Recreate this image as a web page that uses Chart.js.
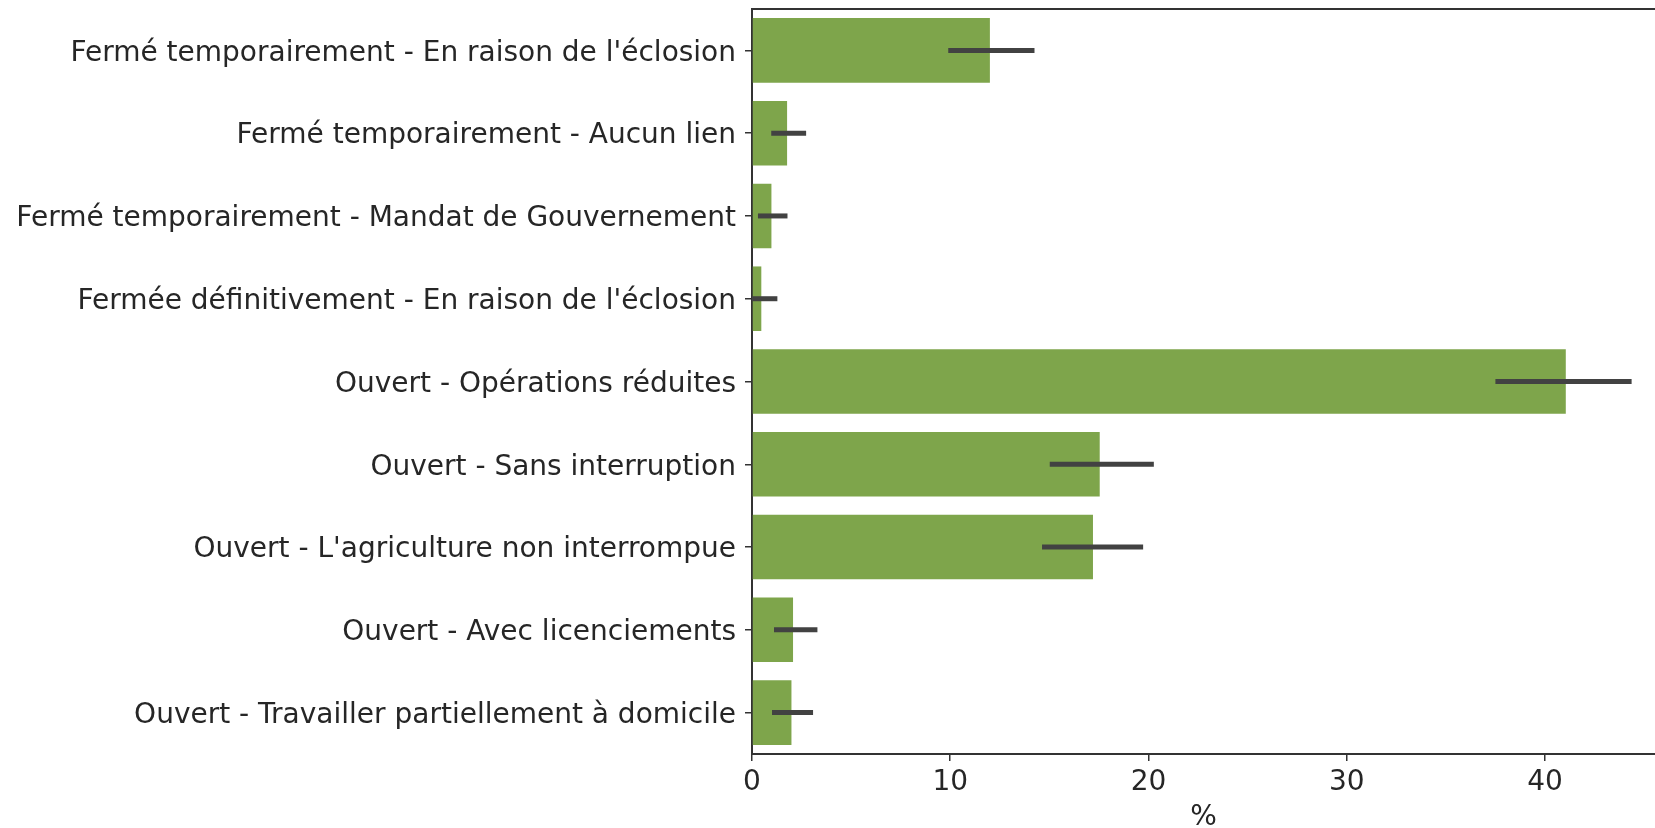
<!DOCTYPE html>
<html>
<head>
<meta charset="utf-8">
<script src="https://cdn.jsdelivr.net/npm/chart.js@4.4.0/dist/chart.umd.min.js"></script>
<style>
  html, body { margin: 0; padding: 0; background: #fff; }
  #wrap { width: 1655px; height: 828px; }
</style>
</head>
<body>
<div id="wrap"><canvas id="status-chart" width="1655" height="828"></canvas></div>
<script>
// Business status shares (%) with bootstrap confidence intervals.
const categories = [
    "Fermé temporairement - En raison de l'éclosion",
    "Fermé temporairement - Aucun lien",
    "Fermé temporairement - Mandat de Gouvernement",
    "Fermée définitivement - En raison de l'éclosion",
    "Ouvert - Opérations réduites",
    "Ouvert - Sans interruption",
    "Ouvert - L'agriculture non interrompue",
    "Ouvert - Avec licenciements",
    "Ouvert - Travailler partiellement à domicile"
];
const shares  = [12.0, 1.77, 0.98, 0.47, 41.05, 17.54, 17.2, 2.07, 1.99];
const ciLow   = [9.9, 0.97, 0.3, 0.0, 37.5, 15.02, 14.63, 1.11, 1.01];
const ciHigh  = [14.25, 2.73, 1.79, 1.28, 44.37, 20.27, 19.73, 3.3, 3.08];
const xTicks  = [0, 10, 20, 30, 40];

const textColor = '#262626';
const spineColor = '#333333';
const labelFont = { family: 'DejaVu Sans', size: 28 };

// Draws the CI whiskers and the top spine.
const errorBars = {
    id: 'errorBars',
    afterDatasetsDraw(chart) {
        const { ctx, chartArea, scales: { x, y } } = chart;
        ctx.save();
        ctx.strokeStyle = '#424242';
        ctx.lineWidth = 5;
        ctx.lineCap = 'butt';
        shares.forEach((_, i) => {
            const py = y.getPixelForValue(i);
            ctx.beginPath();
            ctx.moveTo(x.getPixelForValue(ciLow[i]), py);
            ctx.lineTo(x.getPixelForValue(ciHigh[i]), py);
            ctx.stroke();
        });
        ctx.strokeStyle = spineColor;
        ctx.lineWidth = 2;
        ctx.beginPath();
        ctx.moveTo(chartArea.left, chartArea.top);
        ctx.lineTo(chartArea.right, chartArea.top);
        ctx.stroke();
        ctx.restore();
    }
};

new Chart(document.getElementById('status-chart'), {
    type: 'bar',
    data: {
        labels: categories,
        datasets: [{
            data: shares,
            backgroundColor: '#7ea54b',
            borderWidth: 0,
            categoryPercentage: 1.0,
            barPercentage: 0.78
        }]
    },
    plugins: [errorBars],
    options: {
        indexAxis: 'y',
        responsive: false,
        animation: false,
        layout: { padding: { top: 9, left: 0, right: 0, bottom: 0 } },
        plugins: {
            legend: { display: false },
            tooltip: { enabled: false }
        },
        scales: {
            x: {
                min: 0,
                max: 45.55,
                afterBuildTicks(scale) {
                    scale.ticks = xTicks.map(v => ({ value: v }));
                },
                afterFit(scale) {
                    scale.height = 74;
                    scale.paddingLeft = 0;
                    scale.paddingRight = 0;
                },
                border: { display: true, color: spineColor, width: 2 },
                grid: { display: true, drawOnChartArea: false, drawTicks: true, tickLength: 7, color: spineColor, lineWidth: 1.5 },
                ticks: {
                    padding: 5,
                    color: textColor,
                    font: labelFont,
                    maxRotation: 0
                },
                title: {
                    display: true,
                    text: '%',
                    color: textColor,
                    font: labelFont,
                    padding: { top: 0, bottom: -7 }
                }
            },
            y: {
                afterFit(scale) {
                    scale.width = 752;
                    scale.paddingTop = 0;
                    scale.paddingBottom = 0;
                },
                border: { display: true, color: spineColor, width: 2 },
                grid: { display: true, offset: false, drawOnChartArea: false, drawTicks: true, tickLength: 7, color: spineColor, lineWidth: 1.5 },
                ticks: {
                    padding: 9,
                    labelOffset: 3,
                    color: textColor,
                    autoSkip: false,
                    font: labelFont
                }
            }
        }
    }
});
</script>
</body>
</html>
